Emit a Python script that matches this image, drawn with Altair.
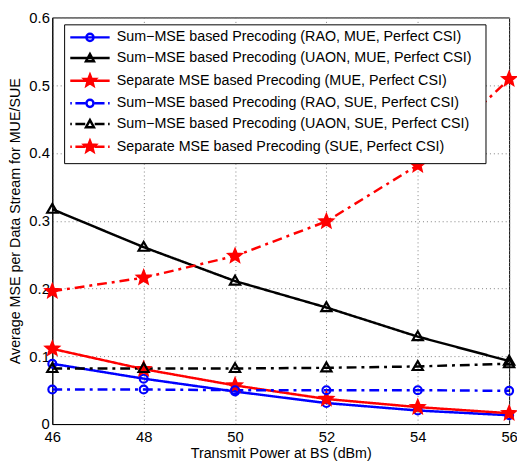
import math
import altair as alt
import pandas as pd

# ---------------- data ----------------
power_dbm = [46, 48, 50, 52, 54, 56]

series_names = [
    "Sum\u2212MSE based Precoding (RAO, MUE, Perfect CSI)",
    "Sum\u2212MSE based Precoding (UAON, MUE, Perfect CSI)",
    "Separate MSE based Precoding (MUE, Perfect CSI)",
    "Sum\u2212MSE based Precoding (RAO, SUE, Perfect CSI)",
    "Sum\u2212MSE based Precoding (UAON, SUE, Perfect CSI)",
    "Separate MSE based Precoding (SUE, Perfect CSI)",
]

rao_mue = [0.089, 0.067, 0.048, 0.031, 0.020, 0.013]
uaon_mue = [0.317, 0.261, 0.211, 0.172, 0.129, 0.093]
sep_mue = [0.111, 0.081, 0.057, 0.037, 0.025, 0.016]
rao_sue = [0.051, 0.051, 0.050, 0.050, 0.050, 0.049]
uaon_sue = [0.082, 0.082, 0.082, 0.083, 0.085, 0.089]
sep_sue = [0.196, 0.216, 0.248, 0.299, 0.382, 0.509]

series_values = [rao_mue, uaon_mue, sep_mue, rao_sue, uaon_sue, sep_sue]

x_ticks = [46, 48, 50, 52, 54, 56]
y_ticks = [0, 0.1, 0.2, 0.3, 0.4, 0.5, 0.6]

rows = []
for name, vals in zip(series_names, series_values):
    for x, y in zip(power_dbm, vals):
        rows.append({"series": name, "power": x, "mse": y})
df = pd.DataFrame(rows)

# ---------------- styles ----------------
BLUE, BLACK, RED = "#0000ff", "#000000", "#ff0000"
colors = [BLUE, BLACK, RED, BLUE, BLACK, RED]
fills = ["transparent", "transparent", RED, "transparent", "transparent", RED]
SOLID = [1, 0]
DASHDOT = [10, 5, 3, 5]
dashes = [SOLID, SOLID, SOLID, DASHDOT, DASHDOT, DASHDOT]


def star_path(R, r):
    pts = []
    for i in range(10):
        a = math.radians(-90 + 36 * i)
        rad = R if i % 2 == 0 else r
        pts.append(f"{rad * math.cos(a):.3f},{rad * math.sin(a):.3f}")
    return "M" + "L".join(pts) + "Z"


def circle_path(r):
    return f"M{r},0A{r},{r} 0 1,1 {-r},0A{r},{r} 0 1,1 {r},0Z"


# plot markers (unit = 2 px with size 16)
m_circle = circle_path(2)
m_tri = "M-2.6,1.8L2.6,1.8L0,-2.7Z"
m_star = star_path(3.4, 1.5)
plot_shapes = [m_circle, m_tri, m_star, m_circle, m_tri, m_star]

# legend symbols (unit = 4 px with size 64): line + marker
solid_line = "M-5,0H5"
dd_line = "M-5,0H-4.6M-3.7,0H-1.2M1.2,0H3.7M4.6,0H5"
l_circle = circle_path(0.9)
l_tri = "M-1,0.8L1,0.8L0,-1Z"
l_star = star_path(1.5, 0.65)
legend_shapes = [
    solid_line + l_circle,
    solid_line + l_tri,
    solid_line + l_star,
    dd_line + l_circle,
    dd_line + l_tri,
    dd_line + l_star,
]

FONT = "Liberation Sans"

x_enc = alt.X(
    "power:Q",
    scale=alt.Scale(domain=[46, 56], nice=False, zero=False),
    axis=alt.Axis(values=x_ticks, title="Transmit Power at BS (dBm)", format="d"),
)
y_enc = alt.Y(
    "mse:Q",
    scale=alt.Scale(domain=[0, 0.6], nice=False),
    axis=alt.Axis(values=y_ticks, title="Average MSE per Data Stream for MUE/SUE", format="~g"),
)

color_scale = alt.Scale(domain=series_names, range=colors)
fill_scale = alt.Scale(domain=series_names, range=fills)

lines = alt.Chart(df).mark_line(strokeWidth=2.5).encode(
    x=x_enc,
    y=y_enc,
    color=alt.Color("series:N", scale=color_scale, legend=None),
    strokeDash=alt.StrokeDash(
        "series:N", scale=alt.Scale(domain=series_names, range=dashes), legend=None
    ),
)

points = alt.Chart(df).mark_point(filled=False, strokeWidth=2.2, size=16, opacity=1).encode(
    x=x_enc,
    y=y_enc,
    color=alt.Color("series:N", scale=color_scale, legend=None),
    fill=alt.Fill("series:N", scale=fill_scale, legend=None),
    shape=alt.Shape(
        "series:N", scale=alt.Scale(domain=series_names, range=plot_shapes), legend=None
    ),
)

leg = alt.Legend(title=" ", titleOrient="right", titlePadding=8, symbolStrokeWidth=2.5)
legend_layer = (
    alt.Chart(df)
    .transform_filter("false")
    .mark_point(filled=False, strokeWidth=2.5, size=64, opacity=1)
    .encode(
        x=x_enc,
        y=y_enc,
        color=alt.Color("series:N", scale=color_scale, legend=leg),
        fill=alt.Fill("series:N", scale=fill_scale, legend=leg),
        shape=alt.Shape(
            "series:N", scale=alt.Scale(domain=series_names, range=legend_shapes), legend=leg
        ),
    )
)

chart = (
    alt.layer(lines, points, legend_layer)
    .resolve_scale(color="independent", fill="independent", shape="independent", strokeDash="independent")
    .properties(
        width=464,
        height=413,
        autosize=alt.AutoSizeParams(type="none"),
        padding={"left": 45, "top": 6, "right": 8, "bottom": 39},
    )
    .configure_view(stroke="black", strokeWidth=1)
    .configure_axis(
        grid=True,
        gridColor="#808080",
        gridDash=[1, 3],
        gridWidth=1,
        gridOpacity=1,
        domainColor="black",
        domainWidth=1,
        ticks=False,
        labelFont=FONT,
        labelFontSize=15,
        labelColor="black",
        titleFont=FONT,
        titleFontSize=14.5,
        titleFontWeight="normal",
        titleColor="black",
    )
    .configure_axisX(labelPadding=6, titlePadding=2, labelFlush=False)
    .configure_axisY(labelPadding=3, titlePadding=6)
    .configure_legend(
        orient="none",
        legendX=12,
        legendY=7,
        strokeColor="black",
        fillColor="white",
        padding=6,
        cornerRadius=0,
        labelFont=FONT,
        labelFontSize=14.5,
        labelColor="black",
        labelLimit=600,
        titleFontSize=10,
        symbolSize=64,
        symbolStrokeWidth=2.5,
        symbolOffset=13,
        labelOffset=20,
        rowPadding=3,
    )
)

chart.save("out.html", embed_options={"renderer": "svg", "actions": False})
